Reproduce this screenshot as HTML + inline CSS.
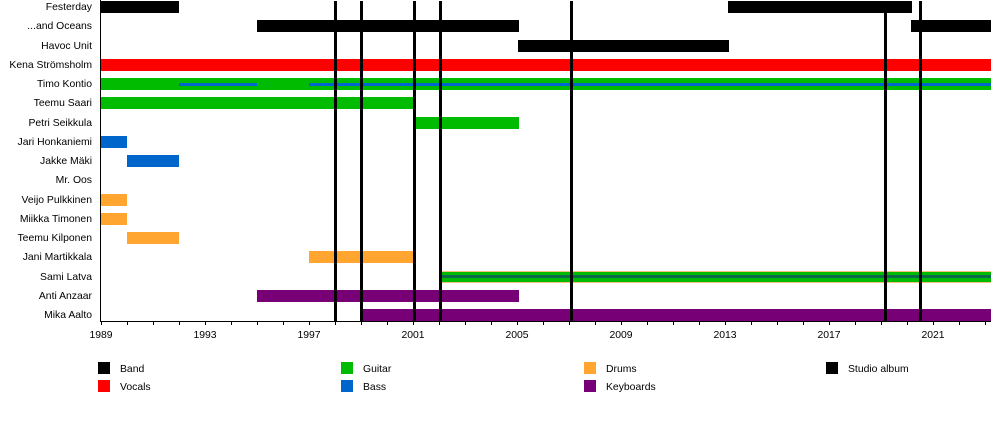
<!DOCTYPE html>
<html><head><style>
body{margin:0;background:#fff;font-family:"Liberation Sans",sans-serif;font-size:10.4px;color:#000}
.c{position:relative;width:1000px;height:440px;overflow:hidden}
.b{position:absolute;height:12px}
.l{position:absolute;right:908px;text-align:right;white-space:nowrap;line-height:12px}
.v{position:absolute;top:1px;width:3px;height:320px;background:#000}
.t{position:absolute;top:330px;width:40px;text-align:center;margin-left:-20px}
.tk{position:absolute;top:321px;width:1px;height:4px;background:#000}
.sq{position:absolute;width:12px;height:12px}
.lt{position:absolute;line-height:12px}
</style></head><body><div class="c" id="c">
<div style="position:absolute;left:100px;top:0;width:1px;height:322px;background:#000"></div>
<div style="position:absolute;left:100px;top:321px;width:891px;height:1px;background:#000"></div>
</div>
<script>
const c=document.getElementById('c');
const X=y=>101+26*(y-1989);
const names=["Festerday","...and Oceans","Havoc Unit","Kena Strömsholm","Timo Kontio","Teemu Saari","Petri Seikkula","Jari Honkaniemi","Jakke Mäki","Mr. Oos","Veijo Pulkkinen","Miikka Timonen","Teemu Kilponen","Jani Martikkala","Sami Latva","Anti Anzaar","Mika Aalto"];
const T=i=>1+i*19.25;
let h='';
names.forEach((n,i)=>{h+=`<div class="l" style="top:${T(i)+1}px">${n}</div>`});
const bars=[[0,101,179,'#000'],[0,728,912,'#000'],[1,257,519,'#000'],[1,911,991,'#000'],[2,518,729,'#000'],[3,101,991,'#f00'],[4,101,991,'#0b0'],[5,101,414,'#0b0'],[6,414,519,'#0b0'],[7,101,127,'#0066cc'],[8,127,179,'#0066cc'],[10,101,127,'#ffa530'],[11,101,127,'#ffa530'],[12,127,179,'#ffa530'],[13,309,414,'#ffa530'],[14,440,991,'#f5c27a'],[15,257,519,'#770077'],[16,361,991,'#770077']];
bars.forEach(([i,a,b,col])=>{h+=`<div class="b" style="top:${T(i)}px;left:${a}px;width:${b-a}px;background:${col}"></div>`});
h+=`<div class="b" style="top:${T(14)+1}px;left:440px;width:551px;height:10px;background:#0b0"></div>`;
h+=`<div class="b" style="top:${T(14)+4.5}px;left:440px;width:551px;height:3px;background:#0a6a4a"></div>`;
[[179,257],[309,991]].forEach(([a,b])=>{h+=`<div class="b" style="top:${T(4)+5}px;left:${a}px;width:${b-a}px;height:3px;background:#0066cc"></div>`});
[335,361,414,440,571,885,920].forEach(x=>{h+=`<div class="v" style="left:${x-1}px"></div>`});
for(let y=1989;y<=2023;y++){h+=`<div class="tk" style="left:${X(y)}px"></div>`;}
for(let y=1989;y<=2021;y+=4){h+=`<div class="t" style="left:${X(y)}px">${y}</div>`;}
const leg=[[98,362,'#000','Band'],[98,380,'#f00','Vocals'],[341,362,'#0b0','Guitar'],[341,380,'#0066cc','Bass'],[584,362,'#ffa530','Drums'],[584,380,'#770077','Keyboards'],[826,362,'#000','Studio album']];
leg.forEach(([x,y,col,t])=>{h+=`<div class="sq" style="left:${x}px;top:${y}px;background:${col}"></div><div class="lt" style="left:${x+22}px;top:${y+2}px">${t}</div>`});
c.insertAdjacentHTML('beforeend',h);
</script></body></html>
